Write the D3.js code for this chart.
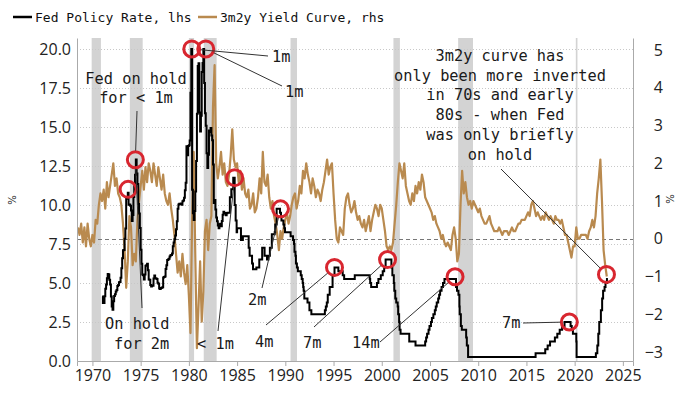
<!DOCTYPE html>
<html>
<head>
<meta charset="utf-8">
<script src="https://cdn.jsdelivr.net/npm/d3@7"></script>
<style>
body { margin: 0; background: #fff; }
svg { display: block; }
</style>
</head>
<body>
<script>
// ---- data ----
var yearTicks = [1970, 1975, 1980, 1985, 1990, 1995, 2000, 2005, 2010, 2015, 2020, 2025];
var leftTicks = [0, 2.5, 5, 7.5, 10, 12.5, 15, 17.5, 20];
var rightTicks = [-3, -2, -1, 0, 1, 2, 3, 4, 5];

// recessions (start, end) in decimal years
var recessions = [[1969.92, 1970.88], [1973.88, 1975.21], [1980.0, 1980.54], [1981.54, 1982.88],
	[1990.54, 1991.21], [2001.21, 2001.88], [2007.92, 2009.46], [2020.12, 2020.29]];

// fed funds, monthly 1971-1983
var fedMonthlyStart = 1971;
var fedMonthly = [
	4.14, 3.72, 3.71, 4.15, 4.63, 4.91, 5.31, 5.57, 5.55, 5.20, 4.91, 4.14,
	3.50, 3.29, 3.83, 4.17, 4.27, 4.46, 4.55, 4.80, 4.87, 5.04, 5.06, 5.33,
	5.94, 6.58, 7.09, 7.12, 7.84, 8.49, 10.40, 10.50, 10.78, 10.01, 10.03, 9.95,
	9.65, 8.97, 9.35, 10.51, 11.31, 11.93, 12.92, 12.01, 11.34, 10.06, 9.45, 8.53,
	7.13, 6.24, 5.54, 5.49, 5.22, 5.55, 6.10, 6.14, 6.24, 5.82, 5.22, 5.20,
	4.87, 4.77, 4.84, 4.82, 5.29, 5.48, 5.31, 5.29, 5.25, 5.02, 4.95, 4.65,
	4.61, 4.68, 4.69, 4.73, 5.35, 5.39, 5.42, 5.90, 6.14, 6.47, 6.51, 6.56,
	6.70, 6.78, 6.79, 6.89, 7.36, 7.60, 7.81, 8.04, 8.45, 8.96, 9.76, 10.03,
	10.07, 10.06, 10.09, 10.01, 10.24, 10.29, 10.47, 10.94, 11.43, 13.77, 13.18, 13.78,
	13.82, 14.13, 17.19, 20.00, 10.98, 9.47, 9.03, 9.61, 10.87, 12.81, 15.85, 18.90,
	19.08, 15.93, 14.70, 15.72, 18.52, 19.10, 20.00, 17.82, 15.87, 15.08, 13.31, 12.37,
	13.22, 14.78, 14.68, 14.94, 14.45, 14.15, 12.59, 10.12, 10.31, 9.71, 9.20, 8.95,
	8.68, 8.51, 8.77, 8.80, 8.63, 8.98, 9.37, 9.56, 9.45, 9.48, 9.34, 9.47
];
// policy rate changes from 1984 on: [date, rate]
var fedSteps = [
	[1984.0, 9.5], [1984.25, 10.5], [1984.4, 11.0], [1984.6, 11.75], [1984.75, 10.0], [1984.85, 9.0],
	[1984.95, 8.25], [1985.0, 8.5], [1985.4, 7.75], [1985.6, 8.0], [1986.2, 7.25], [1986.3, 6.75],
	[1986.55, 6.25], [1986.65, 5.875], [1987.0, 6.0], [1987.3, 6.5], [1987.6, 7.25], [1987.85, 6.75],
	[1988.1, 6.5], [1988.25, 6.75], [1988.4, 7.25], [1988.6, 8.125], [1988.9, 8.25], [1988.95, 8.75],
	[1989.1, 9.75], [1989.45, 9.5], [1989.55, 9.25], [1989.6, 9.0], [1989.8, 8.75], [1989.9, 8.5],
	[1989.97, 8.25], [1990.55, 8.0], [1990.8, 7.75], [1990.9, 7.5], [1990.95, 7.0], [1991.05, 6.75],
	[1991.1, 6.25], [1991.2, 6.0], [1991.3, 5.75], [1991.6, 5.5], [1991.7, 5.25], [1991.8, 5.0],
	[1991.85, 4.75], [1991.9, 4.5], [1991.97, 4.0], [1992.3, 3.75], [1992.5, 3.25], [1992.7, 3.0],
	[1994.1, 3.25], [1994.2, 3.5], [1994.3, 3.75], [1994.4, 4.25], [1994.6, 4.75], [1994.9, 5.5],
	[1995.1, 6.0], [1995.5, 5.75], [1995.95, 5.5], [1996.1, 5.25], [1997.2, 5.5], [1998.75, 5.25],
	[1998.8, 5.0], [1998.9, 4.75], [1999.5, 5.0], [1999.65, 5.25], [1999.9, 5.5], [2000.1, 5.75],
	[2000.25, 6.0], [2000.4, 6.5], [2001.0, 6.0], [2001.1, 5.5], [2001.25, 5.0], [2001.3, 4.5],
	[2001.4, 4.0], [2001.5, 3.75], [2001.65, 3.5], [2001.7, 3.0], [2001.8, 2.5], [2001.85, 2.0],
	[2001.95, 1.75], [2002.85, 1.25], [2003.5, 1.0], [2004.5, 1.25], [2004.6, 1.5], [2004.7, 1.75],
	[2004.85, 2.0], [2004.95, 2.25], [2005.1, 2.5], [2005.2, 2.75], [2005.35, 3.0], [2005.5, 3.25],
	[2005.6, 3.5], [2005.7, 3.75], [2005.85, 4.0], [2005.95, 4.25], [2006.05, 4.5], [2006.2, 4.75],
	[2006.35, 5.0], [2006.5, 5.25], [2007.7, 4.75], [2007.8, 4.5], [2007.95, 4.25], [2008.05, 3.5],
	[2008.08, 3.0], [2008.2, 2.25], [2008.3, 2.0], [2008.75, 1.5], [2008.82, 1.0], [2008.95, 0.25],
	[2015.95, 0.5], [2016.95, 0.75], [2017.2, 1.0], [2017.45, 1.25], [2017.95, 1.5], [2018.2, 1.75],
	[2018.45, 2.0], [2018.7, 2.25], [2018.95, 2.5], [2019.58, 2.25], [2019.7, 2.0], [2019.82, 1.75],
	[2020.17, 1.25], [2020.2, 0.25], [2022.2, 0.5], [2022.35, 1.0], [2022.45, 1.75], [2022.55, 2.5],
	[2022.72, 3.25], [2022.85, 4.0], [2022.95, 4.5], [2023.1, 4.75], [2023.2, 5.0], [2023.35, 5.25],
	[2023.45, 5.25]
];

// 3m2y curve, every 2 months from Jul 1968
var curveStart = 1968.5;
var curveValues = [
	0.3, 0.1, 0.4,
	-0.1, 0.3, -0.2, 0.4, 0.0, -0.2,
	0.1, -0.1, 0.5, 0.4, 0.9, 1.2,
	1.0, 1.3, 0.8, 1.5, 1.1, 1.4,
	1.7, 2.0, 1.4, 1.6, 1.2, 1.1,
	0.9, 0.4, -0.3, -1.3, -0.6, 0.6,
	0.3, -0.7, -0.4, -0.6, 0.5, 1.0,
	1.4, 1.8, 1.3, 1.9, 1.5, 2.0,
	1.8, 1.5, 2.0, 1.7, 1.4, 1.9,
	1.6, 1.3, 1.7, 1.2, 1.0, 0.9,
	1.2, 0.8, 0.5, 0.1, -0.4, -0.9,
	-0.6, -1.0, -0.4, -0.9, -1.2, -0.7,
	-1.5, -2.5, 0.5, 2.3, -0.5, -2.9,
	-1.8, -0.6, -2.2, -1.4, 0.2, 0.5,
	-0.3, 0.4, 0.6, 3.5, 4.6, 2.0,
	1.6, 1.9, 2.3, 1.7, 2.0, 1.5,
	1.4, 1.7, 2.2, 2.9, 2.1, 1.9,
	2.0, 1.5, 1.8, 1.3, 1.6, 1.2,
	1.1, 1.3, 0.8, 0.9, 1.2, 0.7,
	0.8, 1.1, 1.6, 1.2, 2.3, 1.5,
	1.4, 1.7, 1.1, 0.8, 1.0, 0.6,
	0.4, 0.1, -0.3, 0.2, 0.0, 0.3,
	0.5, 0.7, 0.4, 0.6, 0.9, 1.1,
	1.2, 0.8, 1.0, 1.4, 1.2, 1.8,
	1.6, 2.0, 1.7, 1.5, 1.2, 1.6,
	1.4, 1.1, 1.3, 1.2, 1.0, 1.3,
	1.5, 1.8, 2.1, 1.7, 1.9, 2.0,
	1.2, 0.5, 0.0, -0.1, 0.3, 0.2,
	0.1, 0.8, 1.1, 1.2, 0.9, 0.7,
	0.8, 1.0, 0.7, 0.5, 0.6, 0.4,
	0.3, 0.5, 0.2, 0.4, 0.6, 0.2,
	0.5, 0.7, 0.9, 0.8, 0.6, 0.9,
	0.8, 0.5, 0.2, -0.2, -0.3, -0.2,
	-0.3, -0.1, 0.4, 0.9, 1.5, 2.0,
	1.8, 1.6, 2.0, 1.4, 1.2, 1.0,
	0.9, 1.2, 1.0, 1.4, 1.2, 1.5,
	1.3, 1.7, 1.5, 1.1, 1.0, 0.9,
	0.8, 0.7, 0.5, 0.6, 0.4, 0.3,
	0.2, 0.0, 0.1, -0.1, -0.2, -0.1,
	-0.2, -0.3, 0.1, 0.3, 0.0, -0.6,
	-0.4, 0.9, 1.8, 1.2, 1.5, 1.1,
	0.9, 1.0, 0.8, 1.0, 0.9, 0.8,
	0.7, 0.8, 0.6, 0.5, 0.4, 0.4,
	0.5, 0.6, 0.4, 0.3, 0.2, 0.2,
	0.2, 0.3, 0.2, 0.1, 0.2, 0.2,
	0.2, 0.1, 0.2, 0.3, 0.2, 0.2,
	0.3, 0.4, 0.4, 0.5, 0.5, 0.5,
	0.6, 0.7, 0.6, 0.9, 1.0, 0.8,
	0.6, 0.7, 0.6, 0.5, 0.6, 0.5,
	0.7, 0.6, 0.5, 0.6, 0.5, 0.4,
	0.6, 0.5, 0.5, 0.4, 0.5, 0.3,
	0.1, 0.1, -0.1, -0.3, -0.5, -0.2,
	-0.2, 0.3, 0.0, 0.0, 0.1, 0.1,
	0.1, 0.1, 0.0, 0.2, 0.3, 0.5,
	0.3, 0.6, 1.2, 1.6, 2.1, 1.0,
	-0.3, -0.7, -1.0
];

// peaks where the Fed went on hold: [date, policy rate]
var holdPoints = [[1973.7, 11.0], [1974.45, 12.9], [1980.3, 20.0], [1981.75, 20.0], [1984.75, 11.75],
	[1989.5, 9.75], [1995.1, 6.0], [2000.6, 6.5], [2007.6, 5.4], [2019.45, 2.5], [2023.3, 5.55]];

// ---- layout ----
var W = 700, H = 394;
var pL = 77, pR = 633, pT = 38, pB = 361;
var tan = "#b98a4f", red = "#d8262f";
var mono = "'DejaVu Sans Mono', 'Liberation Mono', monospace";

var x = d3.scaleLinear().domain([1968.4, 2026.05]).range([pL, pR]);
var yL = d3.scaleLinear().domain([0, 20.7]).range([pB, pT]);
var yR = d3.scaleLinear().domain([-3.24, 5.32]).range([pB, pT]);

var svg = d3.select("body").append("svg").attr("width", W).attr("height", H);

// recession shading
svg.append("g").selectAll("rect")
	.data(recessions).enter().append("rect")
	.attr("x", function(d) { return x(d[0]); })
	.attr("width", function(d) { return Math.max(1.5, x(d[1]) - x(d[0])); })
	.attr("y", pT).attr("height", pB - pT)
	.attr("fill", "#d3d3d3");

// gridlines
svg.append("g").selectAll("line")
	.data(leftTicks.filter(function(d) { return d > 0; })).enter().append("line")
	.attr("x1", pL).attr("x2", pR)
	.attr("y1", function(d) { return Math.round(yL(d)) + 0.5; })
	.attr("y2", function(d) { return Math.round(yL(d)) + 0.5; })
	.attr("stroke", "#c8c8c8").attr("stroke-dasharray", "1,2");

svg.append("line")
	.attr("x1", pL).attr("x2", pR)
	.attr("y1", Math.round(yR(0)) + 0.5).attr("y2", Math.round(yR(0)) + 0.5)
	.attr("stroke", "#777").attr("stroke-dasharray", "4,3");

// series
var fedData = fedMonthly.map(function(v, i) { return [fedMonthlyStart + i / 12, v]; }).concat(fedSteps);
var curveData = curveValues.map(function(v, i) { return [curveStart + i / 6, v]; });

var curveLine = d3.line()
	.x(function(d) { return x(d[0]); })
	.y(function(d) { return yR(d[1]); });
var fedLine = d3.line()
	.curve(d3.curveStepAfter)
	.x(function(d) { return x(d[0]); })
	.y(function(d) { return yL(d[1]); });

svg.append("path").datum(curveData)
	.attr("d", curveLine)
	.attr("fill", "none").attr("stroke", tan).attr("stroke-width", 2.2).attr("stroke-linejoin", "round");
svg.append("path").datum(fedData)
	.attr("d", fedLine)
	.attr("fill", "none").attr("stroke", "#000").attr("stroke-width", 2);

// circles
var R = 8;
svg.append("g").selectAll("circle")
	.data(holdPoints).enter().append("circle")
	.attr("cx", function(d) { return x(d[0]); })
	.attr("cy", function(d) { return yL(d[1]); })
	.attr("r", R)
	.attr("fill", "none").attr("stroke", red).attr("stroke-width", 3);

// annotations: text lines (pixel layout) + leader to a hold point
var notes = [
	{lines: [["Fed on hold", 136, 84], ["for < 1m", 136, 103]], anchor: "middle", from: [137, 111], to: 1},
	{lines: [["On hold", 105, 329], ["for 2m", 114, 349]], anchor: "start", from: [142, 308], to: 1},
	{lines: [["< 1m", 197, 349]], anchor: "start", from: [218, 331], to: 4},
	{lines: [["2m", 248, 305]], anchor: "start", from: [262, 288], to: 5},
	{lines: [["4m", 255, 347]], anchor: "start", from: [266, 325], to: 6},
	{lines: [["7m", 303, 348]], anchor: "start", from: [314, 327], to: 7},
	{lines: [["14m", 352, 348]], anchor: "start", from: [380, 342], to: 8},
	{lines: [["7m", 502, 328]], anchor: "start", from: [523, 323], to: 9},
	{lines: [["1m", 272, 62]], anchor: "start", from: [268, 56], to: 2},
	{lines: [["1m", 285, 97]], anchor: "start", from: [282, 86], to: 3},
	{lines: [["3m2y curve has", 500, 61], ["only been more inverted", 500, 81], ["in 70s and early", 500, 100],
		["80s - when Fed", 500, 120], ["was only briefly", 500, 140], ["on hold", 500, 160]],
		anchor: "middle", from: [501, 169], to: 10}
];

var ann = svg.append("g");
notes.forEach(function(n) {
	var p = holdPoints[n.to];
	var cx = x(p[0]), cy = yL(p[1]);
	var dx = n.from[0] - cx, dy = n.from[1] - cy;
	var len = Math.sqrt(dx * dx + dy * dy);
	ann.append("line")
		.attr("x1", n.from[0]).attr("y1", n.from[1])
		.attr("x2", cx + dx / len * (R + 1)).attr("y2", cy + dy / len * (R + 1))
		.attr("stroke", "#333").attr("stroke-width", 1);
	n.lines.forEach(function(l) {
		ann.append("text")
			.attr("x", l[1]).attr("y", l[2])
			.attr("text-anchor", n.anchor)
			.attr("font-family", mono).attr("font-size", "15.3px").attr("fill", "#1a1a1a")
			.text(l[0]);
	});
});

// axes
var axisColor = "#aaa";
var gx = svg.append("g").attr("transform", "translate(0," + pB + ")")
	.call(d3.axisBottom(x).tickValues(yearTicks).tickFormat(d3.format("d")).tickSize(5).tickPadding(4));
var gl = svg.append("g").attr("transform", "translate(" + pL + ",0)")
	.call(d3.axisLeft(yL).tickValues(leftTicks).tickFormat(d3.format(".1f")).tickSize(0).tickPadding(6));
var gr = svg.append("g").attr("transform", "translate(" + pR + ",0)")
	.call(d3.axisRight(yR).tickValues(rightTicks).tickFormat(d3.format("d")).tickSize(0));
gr.selectAll("text").attr("x", 30).attr("text-anchor", "end");

[gx, gl, gr].forEach(function(g) {
	g.select(".domain").attr("stroke", axisColor);
	g.selectAll(".tick line").attr("stroke", axisColor);
	g.selectAll("text").attr("font-family", "'Open Sans', sans-serif").attr("font-size", "16px").attr("fill", "#222");
});

// % unit marks
svg.append("text").attr("transform", "translate(16,200) rotate(-90)")
	.attr("text-anchor", "middle").attr("font-family", "'DejaVu Sans', sans-serif")
	.attr("font-size", "10px").attr("fill", "#222").text("%");
svg.append("text").attr("transform", "translate(674,199) rotate(-90)")
	.attr("text-anchor", "middle").attr("font-family", "'DejaVu Sans', sans-serif")
	.attr("font-size", "10px").attr("fill", "#222").text("%");

// legend
var legend = [["Fed Policy Rate, lhs", "#000", 13], ["3m2y Yield Curve, rhs", tan, 198]];
legend.forEach(function(d) {
	svg.append("line").attr("x1", d[2]).attr("x2", d[2] + 19).attr("y1", 17).attr("y2", 17)
		.attr("stroke", d[1]).attr("stroke-width", 2.5);
	svg.append("text").attr("x", d[2] + 22).attr("y", 22)
		.attr("font-family", mono).attr("font-size", "13px").attr("fill", "#111")
		.text(d[0]);
});
</script>
</body>
</html>
